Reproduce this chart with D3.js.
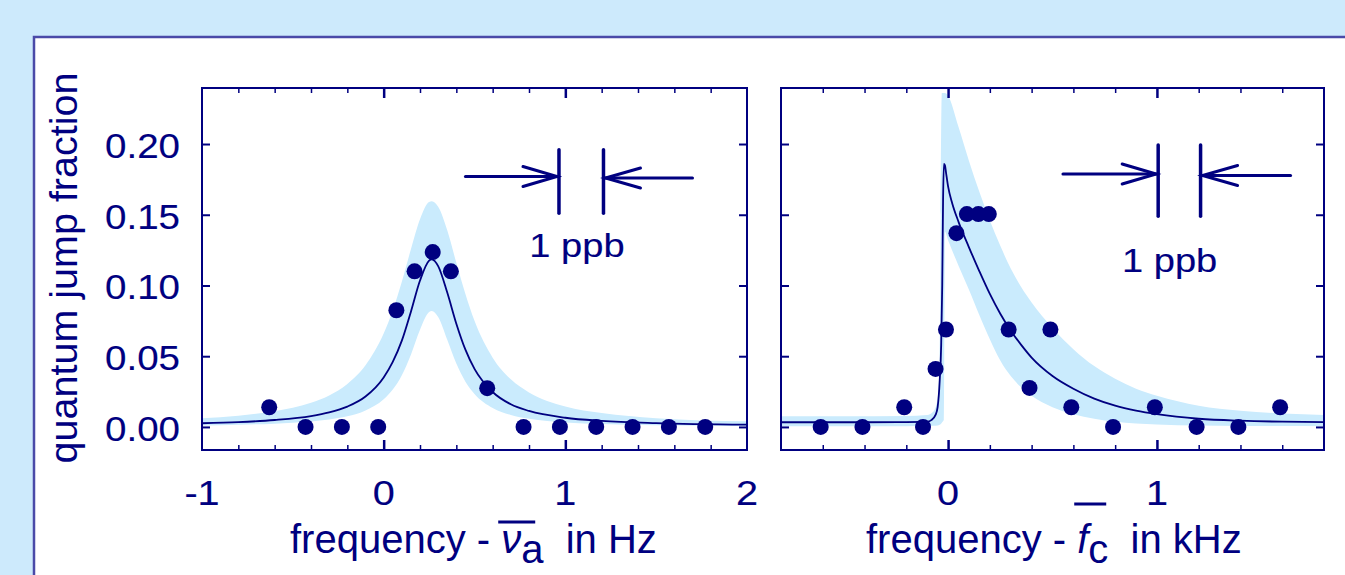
<!DOCTYPE html>
<html>
<head>
<meta charset="utf-8">
<script src="https://cdn.jsdelivr.net/npm/d3@7/dist/d3.min.js"></script>
<style>
  body { margin: 0; background: #cdeafc; }
  text { font-family: "Liberation Sans", Arial, sans-serif; fill: #000080; }
  .lbl { stroke: #000080; stroke-width: 0.15; }
</style>
</head>
<body>
<svg id="chart"></svg>
<script>
// ---- left panel: frequency - nu_a in Hz ----
var leftPtsX = [-0.63, -0.43, -0.23, -0.03, 0.07, 0.17, 0.27, 0.37, 0.57, 0.77, 0.97, 1.17, 1.37, 1.57, 1.77];
var leftPtsY = [0.0139, 0, 0, 0, 0.0825, 0.110, 0.1236, 0.110, 0.0274, 0, 0, 0, 0, 0, 0];

var leftX     = [-1, -0.8, -0.6, -0.4, -0.3, -0.2, -0.1, 0, 0.05, 0.1, 0.15, 0.2, 0.25, 0.265, 0.3, 0.35, 0.4, 0.45, 0.5, 0.6, 0.7, 0.8, 1.0, 1.2, 1.5, 2.0];
var leftFit   = [.0026, .0034, .0049, .0077, .0103, .0144, .0215, .035, .046, .061, .0815, .1035, .1176, .1185, .1137, .095, .073, .0546, .041, .0247, .016, .0113, .0065, .0043, .0027, .0016];
var leftUpper = [.0061, .008, .0111, .0171, .0223, .0304, .0436, .066, .0823, .1026, .1256, .1468, .159, .1595, .1556, .139, .116, .094, .075, .049, .0337, .0244, .0145, .0098, .0062, .004];
var leftLower = [.0011, .0016, .0023, .0039, .0053, .0075, .0116, .0195, .0264, .0366, .0511, .0687, .0812, .082, .0777, .0617, .0448, .032, .0233, .0134, .0085, .0058, .0032, .002, .0012, .0006];

// ---- right panel: frequency - f_c in kHz ----
var rightPtsX = [-0.61, -0.41, -0.21, -0.12, -0.06, -0.01, 0.04, 0.09, 0.145, 0.195, 0.29, 0.39, 0.49, 0.59, 0.79, 0.99, 1.19, 1.39, 1.59];
var rightPtsY = [0, 0, 0.0139, 0, 0.041, 0.0689, 0.137, 0.1505, 0.1505, 0.1505, 0.0689, 0.0276, 0.0689, 0.0139, 0, 0.0139, 0, 0, 0.0139];

var rightFitX = [-0.8, -0.4, -0.2, -0.1, -0.08, -0.06, -0.05, -0.04, -0.033, -0.028, -0.024, -0.02, -0.015, -0.01, 0, 0.02, 0.05, 0.1, 0.15, 0.2, 0.25, 0.3, 0.35, 0.4, 0.5, 0.6, 0.7, 0.8, 0.9, 1.0, 1.2, 1.4, 1.6, 1.8];
var rightFitY = [.0033, .0033, .0034, .0037, .0048, .0085, .014, .033, .058, .10, .16, .186, .185, .18, .17, .158, .145, .127, .110, .094, .080, .068, .058, .049, .036, .027, .020, .015, .0115, .009, .0058, .0044, .0037, .0034];

var rightBandX = [-0.8, -0.5, -0.2, -0.1, -0.07, -0.05, -0.04, -0.035, -0.03, -0.02, -0.015, 0, 0.05, 0.1, 0.15, 0.2, 0.25, 0.3, 0.35, 0.4, 0.5, 0.6, 0.7, 0.8, 0.9, 1.0, 1.2, 1.4, 1.6, 1.8];
var rightUpper = [.0075, .0075, .0078, .0085, .011, .02, .05, .15, .236, .236, .236, .234, .212, .188, .166, .146, .128, .112, .099, .088, .07, .055, .043, .034, .027, .022, .015, .0115, .0095, .0085];
var rightLower = [.0005, .0005, .0005, .0006, .0008, .001, .0015, .002, .003, .005, .138, .132, .114, .097, .079, .062, .047, .036, .028, .022, .014, .009, .0058, .0037, .0025, .0018, .001, .0007, .0006, .0005];

// ticks
var yTicks = [0, 0.05, 0.10, 0.15, 0.20];
var leftXLabels = [-1, 0, 1, 2];
var rightXLabels = [0, 1];

// "1 ppb" markers, in data units
var ppbLeft  = {bars: [0.965, 1.21], from: 0.45, to: 1.70, y: 0.177, barTop: 0.196, barBottom: 0.151, labelX: 1.064, labelY: 0.120};
var ppbRight = {bars: [1.006, 1.209], from: 0.55, to: 1.64, y: 0.1788, barTop: 0.1993, barBottom: 0.149, labelX: 1.061, labelY: 0.1098};

var navy = "#000080";
var bandColor = "#caebfd";
var W = 1345, H = 575;
var plotTop = 88, plotBottom = 450;

var svg = d3.select("#chart").attr("width", W).attr("height", H);

svg.append("rect").attr("width", W).attr("height", H).attr("fill", "#cdeafc");
svg.append("rect")
  .attr("x", 34).attr("y", 37).attr("width", 1400).attr("height", 600)
  .attr("fill", "white").attr("stroke", "#4a4aa8").attr("stroke-width", 2.5);

var y = d3.scaleLinear().domain([-0.0163, 0.2396]).range([plotBottom, plotTop]);

var panels = [
  {id: "L", x0: 202, x1: 747, domain: [-1, 2], minor: d3.range(-0.8, 2, 0.2).map(d => +d.toFixed(1)), major: [0, 1],
   px: leftPtsX, py: leftPtsY, fx: leftX, fy: leftFit, bx: leftX, bu: leftUpper, bl: leftLower,
   labels: leftXLabels, ppb: ppbLeft},
  {id: "R", x0: 781, x1: 1324, domain: [-0.8, 1.8], minor: d3.range(-0.6, 1.8, 0.2).map(d => +d.toFixed(1)), major: [0, 1],
   px: rightPtsX, py: rightPtsY, fx: rightFitX, fy: rightFitY, bx: rightBandX, bu: rightUpper, bl: rightLower,
   labels: rightXLabels, ppb: ppbRight}
];

panels.forEach(function(p) {
  var x = d3.scaleLinear().domain(p.domain).range([p.x0, p.x1]);

  svg.append("clipPath").attr("id", "clip" + p.id)
    .append("rect").attr("x", p.x0).attr("y", plotTop)
    .attr("width", p.x1 - p.x0).attr("height", plotBottom - plotTop);

  var plot = svg.append("g").attr("clip-path", `url(#clip${p.id})`);

  var band = p.bx.map((v, i) => ({x: v, hi: p.bu[i], lo: p.bl[i]}));
  plot.append("path")
    .datum(band)
    .attr("fill", bandColor)
    .attr("d", d3.area().x(d => x(d.x)).y0(d => y(d.lo)).y1(d => y(d.hi)).curve(d3.curveMonotoneX));

  var fit = p.fx.map((v, i) => ({x: v, y: p.fy[i]}));
  plot.append("path")
    .datum(fit)
    .attr("fill", "none")
    .attr("stroke", navy)
    .attr("stroke-width", 1.8)
    .attr("d", d3.line().x(d => x(d.x)).y(d => y(d.y)).curve(d3.curveMonotoneX));

  // ticks, all pointing inward
  function tickAxis(axis, tx, ty, size, vals, sw) {
    var g = svg.append("g")
      .attr("transform", `translate(${tx},${ty})`)
      .attr("color", navy)
      .call(axis.tickValues(vals).tickSize(-size).tickFormat(""));
    g.select(".domain").remove();
    g.selectAll("line").attr("stroke-width", sw);
  }
  var minorOnly = p.minor.filter(v => p.major.indexOf(v) < 0);
  tickAxis(d3.axisBottom(x), 0, plotBottom, 5, minorOnly, 1.5);
  tickAxis(d3.axisBottom(x), 0, plotBottom, 10, p.major, 2.5);
  tickAxis(d3.axisTop(x), 0, plotTop, 5, minorOnly, 1.5);
  tickAxis(d3.axisTop(x), 0, plotTop, 10, p.major, 2.5);
  tickAxis(d3.axisLeft(y), p.x0, 0, 8, yTicks, 2);
  tickAxis(d3.axisRight(y), p.x1, 0, 8, yTicks, 2);

  svg.append("rect")
    .attr("x", p.x0).attr("y", plotTop)
    .attr("width", p.x1 - p.x0).attr("height", plotBottom - plotTop)
    .attr("fill", "none").attr("stroke", navy).attr("stroke-width", 2);

  // data points
  svg.append("g").selectAll("circle")
    .data(p.px.map((v, i) => ({x: v, y: p.py[i]})))
    .enter()
    .append("circle")
    .attr("cx", d => x(d.x))
    .attr("cy", d => y(d.y))
    .attr("r", 8)
    .attr("fill", navy);

  // x tick labels
  p.labels.forEach(function(v) {
    svg.append("text")
      .attr("class", "lbl")
      .attr("transform", `translate(${x(v)},505) scale(1.1,1)`)
      .attr("text-anchor", "middle")
      .attr("font-size", 36)
      .text(v);
  });

  // 1 ppb marker
  var a = p.ppb, ya = y(a.y);
  var ann = svg.append("g").attr("stroke", navy).attr("fill", "none").attr("stroke-linecap", "round");
  a.bars.forEach(function(b) {
    ann.append("line").attr("x1", x(b)).attr("x2", x(b))
      .attr("y1", y(a.barTop)).attr("y2", y(a.barBottom)).attr("stroke-width", 3.5);
  });
  var tipL = x(a.bars[0]) - 2, tipR = x(a.bars[1]) + 2;
  ann.append("line").attr("x1", x(a.from)).attr("x2", tipL).attr("y1", ya).attr("y2", ya).attr("stroke-width", 3);
  ann.append("polyline").attr("points", `${tipL - 34},${ya - 10} ${tipL},${ya} ${tipL - 34},${ya + 10}`).attr("stroke-width", 3);
  ann.append("line").attr("x1", tipR).attr("x2", x(a.to)).attr("y1", ya + 1.5).attr("y2", ya + 1.5).attr("stroke-width", 3);
  ann.append("polyline").attr("points", `${tipR + 35},${ya - 8.5} ${tipR},${ya + 1.5} ${tipR + 35},${ya + 11.5}`).attr("stroke-width", 3);

  svg.append("text")
    .attr("class", "lbl")
    .attr("transform", `translate(${x(a.labelX)},${y(a.labelY)}) scale(1.12,1)`)
    .attr("text-anchor", "middle")
    .attr("font-size", 34)
    .text("1 ppb");
});

// y tick labels
yTicks.forEach(function(v) {
  svg.append("text")
    .attr("class", "lbl")
    .attr("transform", `translate(180,${y(v) + 14}) scale(1.1,1)`)
    .attr("text-anchor", "end")
    .attr("font-size", 35)
    .text(d3.format(".2f")(v));
});

// y axis title
svg.append("text")
  .attr("transform", "translate(77,268) rotate(-90)")
  .attr("text-anchor", "middle")
  .attr("font-size", 39.5)
  .text("quantum jump fraction");

// x axis titles with overlined symbols
function xTitle(x0, sym, sub, unit, barY, barW) {
  var t = svg.append("text")
    .attr("x", x0).attr("y", 553)
    .attr("font-size", 40)
    .style("white-space", "pre");
  t.append("tspan").text("frequency - ");
  t.append("tspan").attr("font-style", "italic").text(sym);
  t.append("tspan").attr("dy", 10).text(sub);
  t.append("tspan").attr("dy", -10).text("  in " + unit);
  var e = t.node().getExtentOfChar(12);
  svg.append("line")
    .attr("x1", e.x - 3).attr("x2", e.x - 3 + barW)
    .attr("y1", barY).attr("y2", barY)
    .attr("stroke", navy).attr("stroke-width", 3);
}
xTitle(290, "\u03bd", "a", "Hz", 522, 37);
xTitle(866, "f", "c", "kHz", 504, 32);
</script>
</body>
</html>
